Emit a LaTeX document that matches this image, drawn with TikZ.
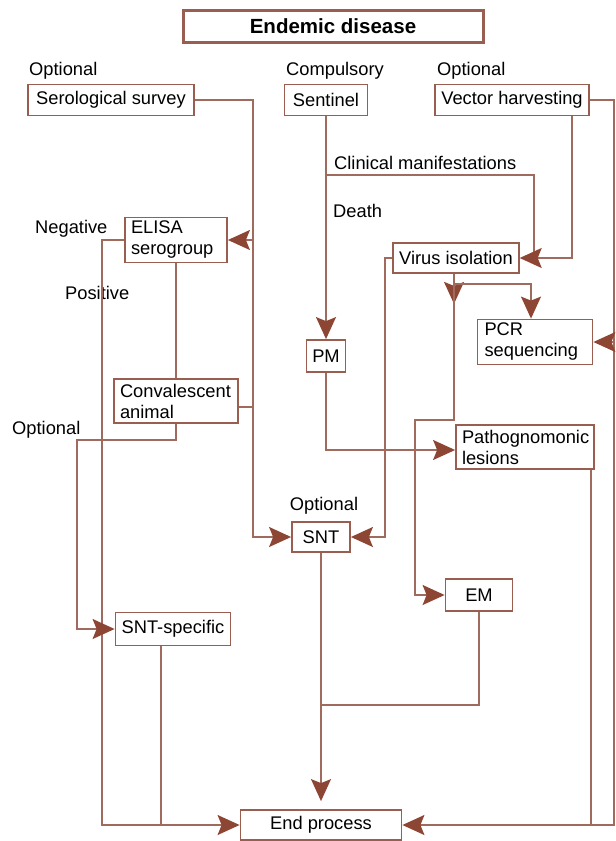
\documentclass[tikz,border=0pt]{standalone}
\usepackage{fontspec}
\setmainfont{Liberation Sans}
\usetikzlibrary{arrows.meta,calc}
\definecolor{frame}{HTML}{9A5E50}
\definecolor{wire}{HTML}{A06A5C}
\definecolor{tip}{HTML}{8E4634}

\begin{document}
\begin{tikzpicture}[x=1pt,y=-1pt,font=\fontsize{18.3}{21}\selectfont,
  box/.style={draw=frame,line width=1.8pt,inner xsep=6pt,inner ysep=1pt,align=left},
  link/.style={wire,line width=1.5pt},
  flow/.style={link,-{Stealth[length=22pt,width=20pt,inset=4pt,color=tip]}}]
  \useasboundingbox (0,0) rectangle (616,841);

  % boxes
  \node[box,line width=3pt,minimum width=300pt,minimum height=32pt,
    font=\fontsize{20.5}{24}\selectfont\bfseries] (title) at (333,26) {Endemic disease};
  \node[box,minimum width=166pt,minimum height=31pt] (sero) at (111,100) {Serological survey};
  \node[box,minimum width=83pt,minimum height=31pt] (sentinel) at (326,100) {Sentinel};
  \node[box,minimum width=154pt,minimum height=31pt] (vector) at (512,100) {Vector harvesting};
  \node[box,text width=90pt,minimum height=45pt] (elisa) at (176,240) {ELISA\\serogroup};
  \node[box,minimum width=122pt,minimum height=30pt] (virus) at (456,258) {Virus isolation};
  \node[box,minimum width=39pt,minimum height=32pt,inner xsep=2pt] (pm) at (326,356) {PM};
  \node[box,text width=101pt,inner xsep=7pt,minimum height=45pt] (pcr) at (535,342) {PCR\\sequencing};
  \node[box,text width=112pt,minimum height=44pt] (conv) at (176,401) {Convalescent\\animal};
  \node[box,text width=126pt,minimum height=44pt] (patho) at (525,447) {Pathognomonic\\lesions};
  \node[box,minimum width=58pt,minimum height=30pt] (snt) at (321,537) {SNT};
  \node[box,minimum width=67pt,minimum height=32pt] (em) at (479,595) {EM};
  \node[box,minimum width=115pt,minimum height=33pt,inner xsep=3pt] (sntspec) at (173,629) {SNT-specific};
  \node[box,minimum width=161pt,minimum height=30pt] (end) at (321,825) {End process};

  % labels
  \node[anchor=west,inner sep=0pt] (optSero) at (29,71) {Optional};
  \node[anchor=west,inner sep=0pt] (compSent) at (286,71) {Compulsory};
  \node[anchor=west,inner sep=0pt] (optVec) at (437,71) {Optional};
  \node[anchor=west,inner sep=0pt] (clinLab) at (334,163) {Clinical manifestations};
  \node[anchor=west,inner sep=0pt] (deathLab) at (333,211) {Death};
  \node[anchor=west,inner sep=0pt] (negLab) at (35,229) {Negative};
  \node[anchor=west,inner sep=0pt] (posLab) at (65,293) {Positive};
  \node[anchor=west,inner sep=0pt] (optConv) at (12,430) {Optional};
  \node[inner sep=0pt] (optSnt) at (324,506) {Optional};

  % bus lines
  \coordinate (seroBus) at (253,100);
  \coordinate (lBus) at (102,0);
  \coordinate (rBus) at (614,0);
  \coordinate (vecX) at (572,0);
  \coordinate (clin) at (534,175);
  \coordinate (virBus) at (385,0);
  \coordinate (emBus) at (415,420);
  \coordinate (optBus) at (77,440);
  \coordinate (merge) at (321,705);

  % connectors
  \draw[flow] (sero.east) -- (seroBus) |- (snt.west);
  \draw[flow] (seroBus |- elisa.east) -- (elisa.east);
  \draw[link] ($(conv.east)+(0,6)$) coordinate (convOut) -- (seroBus |- convOut);
  \draw[flow] (elisa.west) -| (lBus |- end.west) -- (end.west);
  \draw[link] (elisa.south) -- (conv.north);
  \draw[flow] (conv.south) |- (optBus) |- (sntspec.west);
  \draw[link] ([xshift=-12pt]sntspec.south) coordinate (specOut) -- (specOut |- end.west);

  \draw[flow] (sentinel.south) -- (pm.north);
  \draw[link] (sentinel.south |- clin) -- (clin) -- (clin |- virus.east);
  \draw[flow] (vector.south -| vecX) |- (virus.east);
  \draw[flow] (vector.east) -| (rBus |- end.east) -- (end.east);
  \draw[flow] (rBus |- pcr.east) -- (pcr.east);

  \draw[flow] (virus.west) -| (virBus |- snt.east) -- (snt.east);
  \draw[flow] ([xshift=-2pt]virus.south) coordinate (virOut) -- ++(0,30);
  \draw[flow] ($(virOut)+(0,10)$) -| ([xshift=-4pt]pcr.north);
  \draw[flow] (virOut) |- (emBus) |- (em.west);
  \draw[flow] (pm.south) |- ($(patho.west)+(0,3)$);
  \draw[link] ([xshift=-4pt]patho.south east) coordinate (pathoOut) -- (pathoOut |- end.east);

  \draw[link] (em.south) |- (merge);
  \draw[flow,shorten >=8pt] (snt.south) -- (end.north);
\end{tikzpicture}
\end{document}
